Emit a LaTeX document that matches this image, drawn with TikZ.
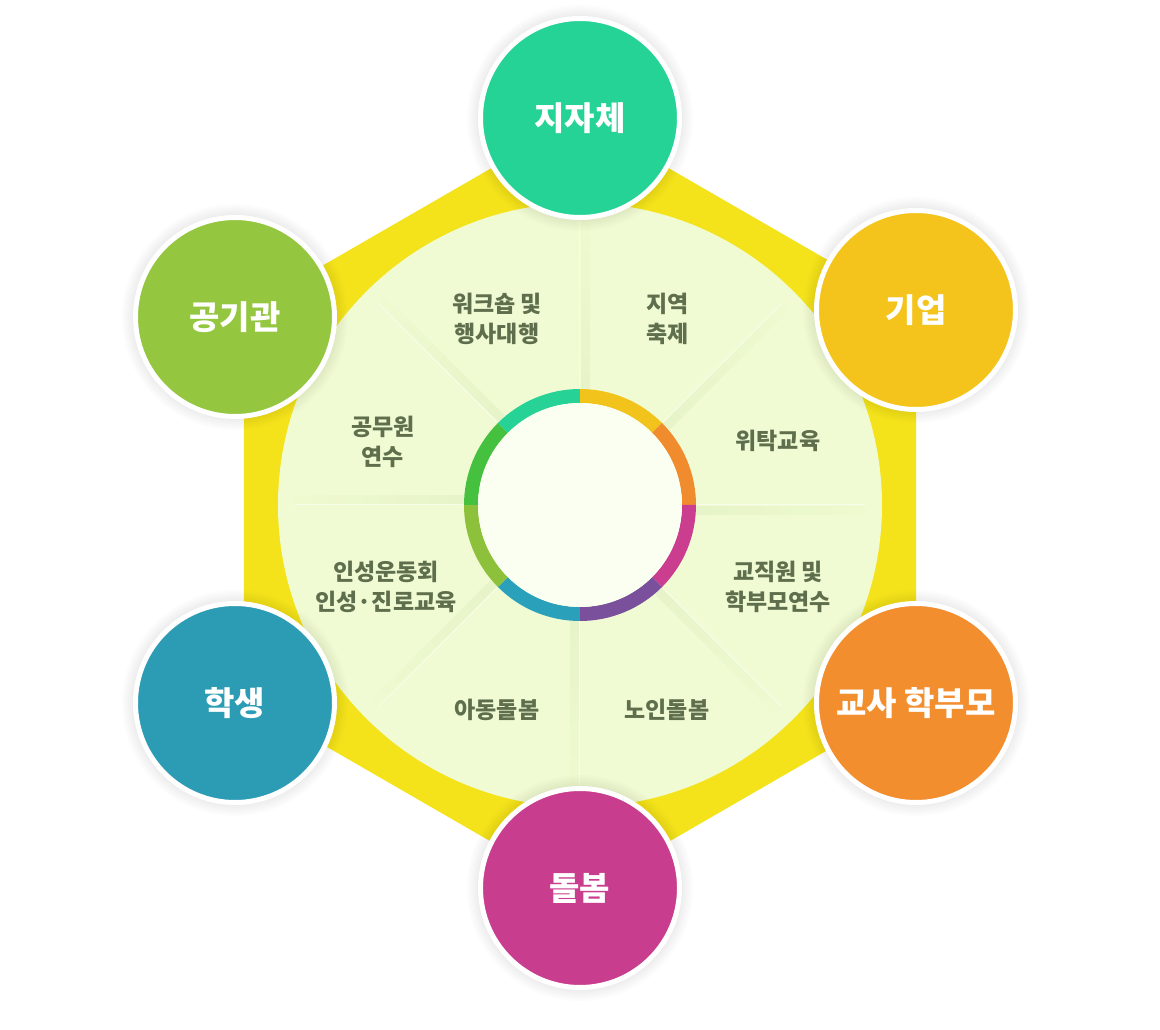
\documentclass[tikz,border=0pt]{standalone}
\usepackage{fontspec}
\setmainfont{Noto Sans CJK KR}
\definecolor{hexy}{HTML}{F4E31B}
\definecolor{bigc}{HTML}{F0FBD3}
\definecolor{innerc}{HTML}{FBFFF1}
\definecolor{shad}{HTML}{D9E6B6}
\definecolor{txt}{HTML}{5F6E4C}
\definecolor{rY}{HTML}{F2C31B}
\definecolor{rO}{HTML}{F08C2E}
\definecolor{rM}{HTML}{CB3D8F}
\definecolor{rP}{HTML}{7A4F9B}
\definecolor{rT}{HTML}{2BA0BB}
\definecolor{rYG}{HTML}{8EC13B}
\definecolor{rG}{HTML}{46C03F}
\definecolor{rTG}{HTML}{27D297}
\definecolor{cJ}{HTML}{26D396}
\definecolor{cK}{HTML}{F4C41C}
\definecolor{cE}{HTML}{F28E2E}
\definecolor{cD}{HTML}{C93D8E}
\definecolor{cH}{HTML}{2C9CB5}
\definecolor{cG}{HTML}{94C640}
\begin{document}
\begin{tikzpicture}[x=1pt,y=1pt,
  bignode/.style={circle, minimum size=199pt, inner sep=0pt, draw=white, line width=5pt,
    text=white, font=\fontsize{33}{38}\selectfont\bfseries},
  sector/.style={align=center, text=txt, inner sep=0pt, font=\fontsize{23}{30}\selectfont\bfseries},
]
\useasboundingbox (-580,-525) rectangle (580,505);
\fill[white] (-580,-525) rectangle (580,505);
% hexagon
\fill[hexy] (90:388) -- (30:388) -- (-30:388) -- (-90:388) -- (-150:388) -- (150:388) -- cycle;
% big circle
\fill[bigc] (0,0) circle (302);
% dividing lines
\foreach \a in {0,45,...,315} {
  \begin{scope}[rotate=\a]
    \foreach \i in {0,...,9} {
      \pgfmathsetmacro\op{0.35*(1-\i/10)}
      \fill[shad, opacity=\op] ({116+\i*17},-1) rectangle ({133+\i*17},-10);
    }
    \draw[white, line width=1pt, opacity=0.5] (116,0) -- (285,0);
  \end{scope}
}
% ring
\foreach \s/\e/\c in {45/90/rY, 0/45/rO, -45/0/rM, -90/-45/rP, -135/-90/rT, -180/-135/rYG, 135/180/rG, 90/135/rTG} {
  \fill[\c] (\s:116) arc[start angle=\s, end angle=\e, radius=116] -- (\e:102) arc[start angle=\e, end angle=\s, radius=102] -- cycle;
}
\fill[innerc] (0,0) circle (102);
% shadows of outer circles
\foreach \p in {(0,387),(336,195),(336,-198),(0,-383),(-345,-198),(-345,188)} {
  \foreach \r in {103,105,...,113} {
    \fill[black, opacity=0.012] \p circle (\r);
  }
}
% outer nodes
\node[bignode, fill=cJ] (jija) at (0,387) {지자체};
\node[bignode, fill=cK] (gieop) at (336,195) {기업};
\node[bignode, fill=cE] (gyosa) at (336,-198) {교사 학부모};
\node[bignode, fill=cD] (dolbom) at (0,-383) {돌봄};
\node[bignode, fill=cH] (haksaeng) at (-345,-198) {학생};
\node[bignode, fill=cG] (gonggi) at (-345,188) {공기관};
% sector labels
\node[sector] (s1) at (-83,186) {워크숍 및\\행사대행};
\node[sector] (s2) at (88,186) {지역\\축제};
\node[sector] (s3) at (198,64) {위탁교육};
\node[sector] (s4) at (198,-82) {교직원 및\\학부모연수};
\node[sector] (s5) at (87,-205) {노인돌봄};
\node[sector] (s6) at (-83,-205) {아동돌봄};
\node[sector] (s7) at (-194,-82) {인성운동회\\인성·진로교육};
\node[sector] (s8) at (-197,63) {공무원\\연수};
\end{tikzpicture}
\end{document}
